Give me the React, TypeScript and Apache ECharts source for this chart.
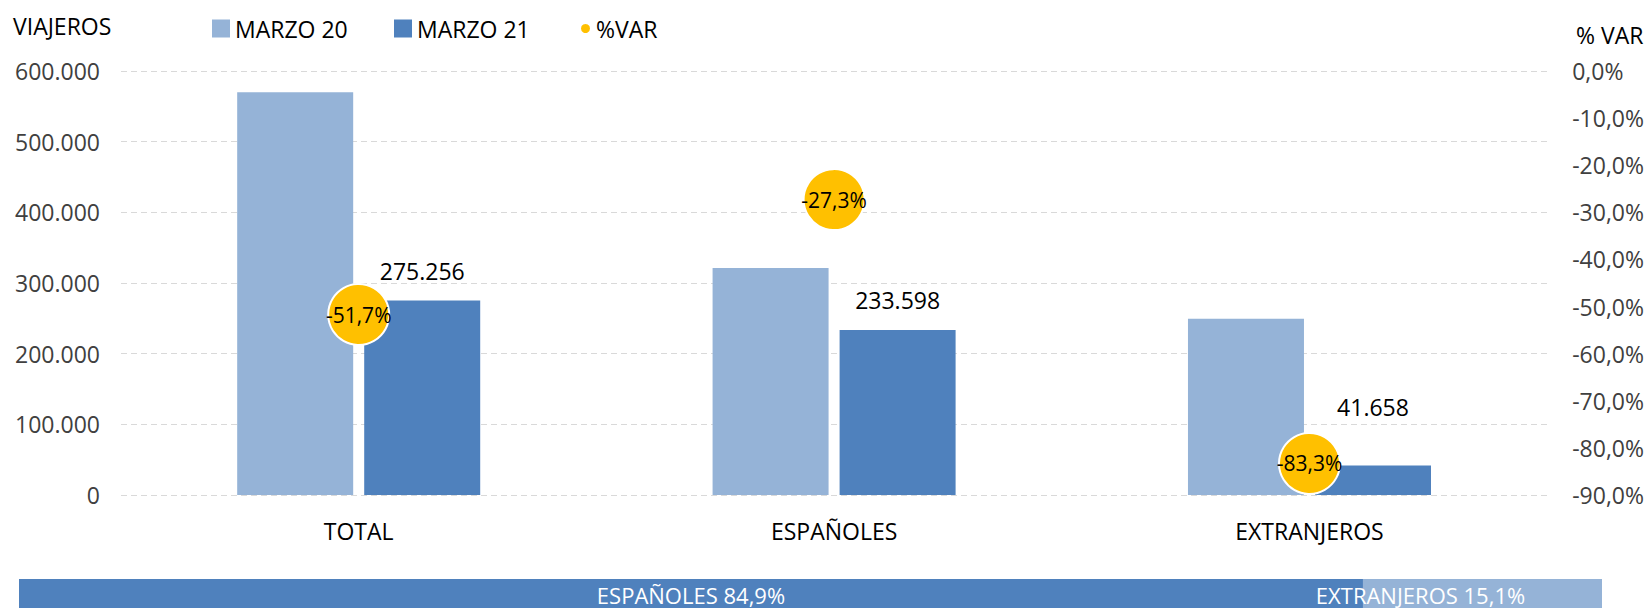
import React, { useEffect, useRef } from "react";
import * as echarts from "echarts";

const categories = ["TOTAL", "ESPAÑOLES", "EXTRANJEROS"];
const marzo20 = [570000, 321300, 249500];
const marzo21 = [275256, 233598, 41658];
const pctVar = [-51.7, -27.3, -83.3];
const shareNames = ["ESPAÑOLES", "EXTRANJEROS"];
const shareValues = [84.9, 15.1];

const FONT = "'Liberation Sans Narrow', 'Open Sans', sans-serif";

const fmtThousands = (v: number) =>
  Math.round(v).toString().replace(/\B(?=(\d{3})+(?!\d))/g, ".");
const fmtPct = (v: number) => v.toFixed(1).replace(".", ",") + "%";

export default function App() {
  const ref = useRef<HTMLDivElement>(null);
  useEffect(() => {
    if (!ref.current) return;
    const chart = echarts.init(ref.current, null, { renderer: "svg" });
    const option: any = {
      animation: false,
      textStyle: { fontFamily: FONT },
      grid: [
        { left: 121, right: 99, top: 71, bottom: 113 },
        { left: 19, right: 45, top: 579, height: 29 },
      ],
      legend: [
        {
          data: [{ name: "MARZO 20", icon: "rect" }],
          left: 207, top: 12, itemWidth: 18, itemHeight: 18, itemGap: 6,
          textStyle: { fontFamily: FONT, fontSize: 23, color: "#000" },
        },
        {
          data: [{ name: "MARZO 21", icon: "rect" }],
          left: 389, top: 12, itemWidth: 18, itemHeight: 18, itemGap: 6,
          textStyle: { fontFamily: FONT, fontSize: 23, color: "#000" },
        },
        {
          data: [{ name: "%VAR", icon: "circle" }],
          left: 574, top: 12, itemWidth: 11, itemHeight: 11, itemGap: 6,
          textStyle: { fontFamily: FONT, fontSize: 23, color: "#000" },
        },
      ],
      xAxis: [
        {
          type: "category",
          gridIndex: 0,
          data: categories,
          axisLine: { show: false },
          axisTick: { show: false },
          axisLabel: { color: "#000", fontSize: 23, margin: 24, fontFamily: FONT },
        },
        { type: "value", gridIndex: 1, min: 0, max: 100, show: false },
      ],
      yAxis: [
        {
          type: "value",
          gridIndex: 0,
          min: 0,
          max: 600000,
          interval: 100000,
          axisLabel: {
            color: "#404040", fontSize: 23, margin: 21, fontFamily: FONT,
            formatter: (v: number) => fmtThousands(v),
          },
          splitLine: { lineStyle: { color: "#D9D9D9", type: [6, 4], width: 1 } },
        },
        {
          type: "value",
          gridIndex: 0,
          position: "right",
          min: -90,
          max: 0,
          interval: 10,
          splitLine: { show: false },
          axisLabel: {
            color: "#404040", fontSize: 23, margin: 25, fontFamily: FONT,
            formatter: (v: number) => fmtPct(v),
          },
        },
        { type: "category", gridIndex: 1, data: ["share"], show: false },
      ],
      series: [
        {
          name: "MARZO 20",
          type: "bar",
          xAxisIndex: 0,
          yAxisIndex: 0,
          data: marzo20,
          barWidth: 116,
          barGap: "9.5%",
          itemStyle: { color: "#95B3D7" },
        },
        {
          name: "MARZO 21",
          type: "bar",
          xAxisIndex: 0,
          yAxisIndex: 0,
          barWidth: 116,
          data: marzo21.map((v, i) => ({
            value: v,
            label: i === 2 ? { offset: [0, -29] } : undefined,
          })),
          itemStyle: { color: "#4F81BD" },
          label: {
            show: true,
            position: "top",
            distance: 18,
            color: "#000",
            fontSize: 23,
            fontFamily: FONT,
            formatter: (p: any) => fmtThousands(p.value),
          },
        },
        {
          name: "%VAR",
          type: "scatter",
          xAxisIndex: 0,
          yAxisIndex: 1,
          data: pctVar,
          symbolSize: 61,
          z: 5,
          itemStyle: { color: "#FFC000", borderColor: "#fff", borderWidth: 2, opacity: 1 },
          label: {
            show: true,
            position: "inside",
            color: "#000",
            fontSize: 21,
            fontFamily: FONT,
            formatter: (p: any) => fmtPct(p.value),
          },
        },
        {
          name: shareNames[0],
          type: "bar",
          xAxisIndex: 1,
          yAxisIndex: 2,
          stack: "share",
          barWidth: "100%",
          data: [shareValues[0]],
          itemStyle: { color: "#4F81BD" },
          label: {
            show: true,
            position: "inside",
            color: "#fff",
            fontSize: 22,
            fontFamily: FONT,
            offset: [0, 1],
            formatter: (p: any) => `${p.seriesName} ${fmtPct(p.value)}`,
          },
        },
        {
          name: shareNames[1],
          type: "bar",
          xAxisIndex: 1,
          yAxisIndex: 2,
          stack: "share",
          barWidth: "100%",
          data: [shareValues[1]],
          itemStyle: { color: "#95B3D7" },
          label: {
            show: true,
            position: "inside",
            color: "#fff",
            fontSize: 22,
            fontFamily: FONT,
            offset: [-62, 1],
            formatter: (p: any) => `${p.seriesName} ${fmtPct(p.value)}`,
          },
        },
      ],
      graphic: [
        {
          type: "text",
          left: 13,
          top: 14,
          style: { text: "VIAJEROS", fontSize: 23, fontFamily: FONT, fill: "#000" },
        },
        {
          type: "text",
          left: 1576,
          top: 23,
          style: { text: "% VAR", fontSize: 23, fontFamily: FONT, fill: "#000" },
        },
      ],
    };
    chart.setOption(option);
    return () => chart.dispose();
  }, []);
  return (
    <div
      ref={ref}
      style={{ position: "fixed", left: 0, top: 0, width: 1647, height: 608, background: "#fff" }}
    />
  );
}
